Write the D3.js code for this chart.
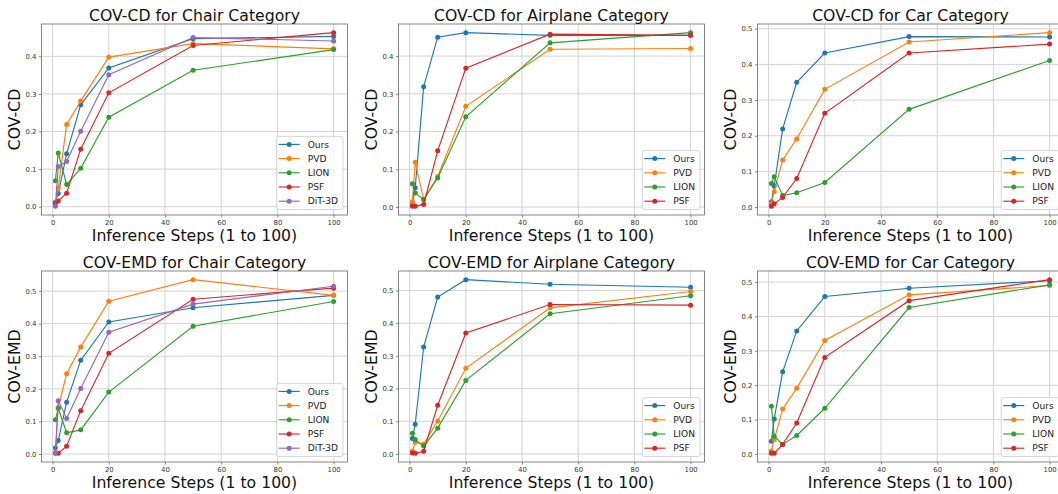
<!DOCTYPE html>
<html><head><meta charset="utf-8">
<script src="https://cdn.jsdelivr.net/npm/d3@7"></script>
<style>
html,body{margin:0;padding:0;background:#fff;}
svg{display:block;font-family:"DejaVu Sans",sans-serif;}
</style></head>
<body>
<svg id="chart" width="1058" height="494"></svg>
<script>
// ---- data ----
const steps = [1, 2, 5, 10, 20, 50, 100];
const xTicks = [0, 20, 40, 60, 80, 100];
const methods5 = ["Ours", "PVD", "LION", "PSF", "DiT-3D"];
const methods4 = ["Ours", "PVD", "LION", "PSF"];
const colors = {"Ours": "#1f77b4", "PVD": "#ff7f0e", "LION": "#2ca02c", "PSF": "#d62728", "DiT-3D": "#9467bd"};
const yTicksLow = [0, 0.1, 0.2, 0.3, 0.4];
const yTicksHigh = [0, 0.1, 0.2, 0.3, 0.4, 0.5];

const chairCD = [
  [0.012, 0.035, 0.141, 0.271, 0.369, 0.447, 0.453],
  [0.008, 0.050, 0.219, 0.281, 0.398, 0.434, 0.420],
  [0.069, 0.143, 0.059, 0.102, 0.238, 0.363, 0.418],
  [0.010, 0.015, 0.036, 0.153, 0.303, 0.429, 0.463],
  [0.001, 0.107, 0.120, 0.201, 0.351, 0.450, 0.441]
];
const airplaneCD = [
  [0.008, 0.051, 0.319, 0.450, 0.462, 0.455, 0.455],
  [0.014, 0.119, 0.020, 0.081, 0.267, 0.418, 0.420],
  [0.062, 0.037, 0.020, 0.077, 0.239, 0.435, 0.462],
  [0.002, 0.002, 0.007, 0.149, 0.368, 0.458, 0.455]
];
const carCD = [
  [0.015, 0.059, 0.219, 0.350, 0.432, 0.478, 0.477],
  [0.010, 0.043, 0.132, 0.191, 0.330, 0.463, 0.489],
  [0.066, 0.085, 0.032, 0.040, 0.069, 0.274, 0.411],
  [0.002, 0.009, 0.027, 0.080, 0.263, 0.432, 0.457]
];
const chairEMD = [
  [0.019, 0.041, 0.159, 0.288, 0.405, 0.449, 0.487],
  [0.004, 0.142, 0.246, 0.328, 0.469, 0.535, 0.487],
  [0.105, 0.140, 0.065, 0.074, 0.190, 0.392, 0.468],
  [0.002, 0.002, 0.024, 0.133, 0.309, 0.475, 0.509],
  [0.004, 0.163, 0.109, 0.201, 0.374, 0.460, 0.515]
];
const airplaneEMD = [
  [0.047, 0.091, 0.327, 0.480, 0.533, 0.519, 0.510],
  [0.009, 0.036, 0.030, 0.101, 0.262, 0.447, 0.497],
  [0.063, 0.044, 0.024, 0.079, 0.225, 0.429, 0.484],
  [0.003, 0.002, 0.008, 0.149, 0.370, 0.457, 0.455]
];
const carEMD = [
  [0.037, 0.102, 0.239, 0.358, 0.458, 0.482, 0.504],
  [0.009, 0.042, 0.131, 0.191, 0.330, 0.463, 0.490],
  [0.139, 0.052, 0.028, 0.054, 0.133, 0.426, 0.492],
  [0.002, 0.002, 0.028, 0.090, 0.281, 0.446, 0.507]
];

const panels = [
  {title: "COV-CD for Chair Category", ylabel: "COV-CD", data: chairCD, methods: methods5, yTicks: yTicksLow, col: 0, row: 0},
  {title: "COV-CD for Airplane Category", ylabel: "COV-CD", data: airplaneCD, methods: methods4, yTicks: yTicksLow, col: 1, row: 0},
  {title: "COV-CD for Car Category", ylabel: "COV-CD", data: carCD, methods: methods4, yTicks: yTicksHigh, col: 2, row: 0},
  {title: "COV-EMD for Chair Category", ylabel: "COV-EMD", data: chairEMD, methods: methods5, yTicks: yTicksHigh, col: 0, row: 1},
  {title: "COV-EMD for Airplane Category", ylabel: "COV-EMD", data: airplaneEMD, methods: methods4, yTicks: yTicksHigh, col: 1, row: 1},
  {title: "COV-EMD for Car Category", ylabel: "COV-EMD", data: carEMD, methods: methods4, yTicks: yTicksHigh, col: 2, row: 1}
];

// ---- layout ----
const colLefts = [41.5, 398.5, 757.5];
const rowTops = [24, 271];
const W = 306, H = 191;
const svg = d3.select("#chart");

panels.forEach(p => {
  const left = colLefts[p.col], top = rowTops[p.row];
  const g = svg.append("g").attr("transform", `translate(${left},${top})`);
  const xr = 99 * 0.05;
  const x = d3.scaleLinear().domain([1 - xr, 100 + xr]).range([0, W]);
  const all = p.data.flat();
  const mn = d3.min(all), mx = d3.max(all), yr = (mx - mn) * 0.05;
  const y = d3.scaleLinear().domain([mn - yr, mx + yr]).range([H, 0]);

  // grid
  g.append("g").selectAll("line").data(xTicks).join("line")
    .attr("x1", d => x(d)).attr("x2", d => x(d)).attr("y1", 0).attr("y2", H)
    .attr("stroke", "#d3d3d3").attr("stroke-width", 1);
  g.append("g").selectAll("line").data(p.yTicks).join("line")
    .attr("y1", d => y(d)).attr("y2", d => y(d)).attr("x1", 0).attr("x2", W)
    .attr("stroke", "#d3d3d3").attr("stroke-width", 1);

  // axes
  const xAxis = d3.axisBottom(x).tickValues(xTicks).tickSize(2.5).tickPadding(2.5).tickFormat(d3.format("d"));
  const yAxis = d3.axisLeft(y).tickValues(p.yTicks).tickSize(2.5).tickPadding(2.5).tickFormat(d3.format(".1f"));
  const gx = g.append("g").attr("transform", `translate(0,${H})`).call(xAxis);
  const gy = g.append("g").call(yAxis);
  [gx, gy].forEach(a => {
    a.select(".domain").remove();
    a.selectAll(".tick line").attr("stroke", "#555").attr("stroke-width", 0.7);
    a.selectAll(".tick text").attr("fill", "#333").style("font-size", "6.9px").style("font-family", "DejaVu Sans");
  });

  // series
  p.data.forEach((vals, i) => {
    const m = p.methods[i];
    const pts = steps.map((s, j) => [s, vals[j]]);
    g.append("path").datum(pts)
      .attr("d", d3.line().x(d => x(d[0])).y(d => y(d[1])))
      .attr("fill", "none").attr("stroke", colors[m]).attr("stroke-width", 1.15);
    g.append("g").selectAll("circle").data(pts).join("circle")
      .attr("cx", d => x(d[0])).attr("cy", d => y(d[1])).attr("r", 2.5)
      .attr("fill", colors[m]);
  });

  // spines
  g.append("rect").attr("x", 0).attr("y", 0).attr("width", W).attr("height", H)
    .attr("fill", "none").attr("stroke", "#666").attr("stroke-width", 0.8);

  // title & labels
  g.append("text").attr("x", W / 2).attr("y", -3.4).attr("text-anchor", "middle")
    .style("font-size", "15.7px").attr("fill", "#111").text(p.title);
  g.append("text").attr("x", W / 2).attr("y", H + 25.5).attr("text-anchor", "middle")
    .style("font-size", "15.7px").attr("fill", "#111").text("Inference Steps (1 to 100)");
  g.append("text").attr("transform", `translate(-22,${H / 2}) rotate(-90)`).attr("text-anchor", "middle")
    .style("font-size", "15.7px").attr("fill", "#111").text(p.ylabel);

  // legend
  const fs = 9.1, rowH = 14.2, n = p.methods.length;
  const lg = g.append("g");
  const texts = [];
  const tmp = lg.append("g");
  p.methods.forEach(m => {
    texts.push(tmp.append("text").style("font-size", fs + "px").text(m).node().getComputedTextLength());
  });
  tmp.remove();
  const lw = 31 + d3.max(texts) + 5;
  const lh = 8 + (n - 1) * rowH + 8.3;
  const lx = W - 4.5 - lw, ly = H - 5.5 - lh;
  lg.append("rect").attr("x", lx).attr("y", ly).attr("width", lw).attr("height", lh).attr("rx", 2)
    .attr("fill", "#fff").attr("fill-opacity", 0.8).attr("stroke", "#cccccc").attr("stroke-width", 0.8);
  p.methods.forEach((m, i) => {
    const cy = ly + 8 + i * rowH;
    lg.append("line").attr("x1", lx + 2).attr("x2", lx + 23).attr("y1", cy).attr("y2", cy)
      .attr("stroke", colors[m]).attr("stroke-width", 1.15);
    lg.append("circle").attr("cx", lx + 12.5).attr("cy", cy).attr("r", 2.5).attr("fill", colors[m]);
    lg.append("text").attr("x", lx + 31).attr("y", cy).attr("dy", "0.35em")
      .style("font-size", fs + "px").attr("fill", "#222").text(m);
  });
});
</script>
</body></html>
